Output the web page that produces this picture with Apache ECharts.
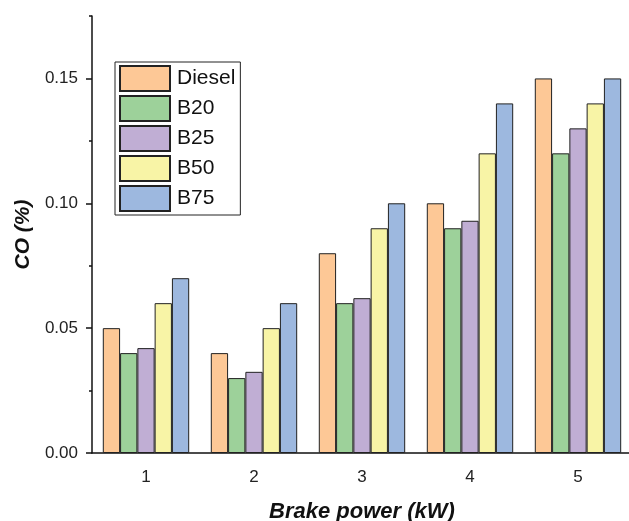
<!DOCTYPE html>
<html>
<head>
<meta charset="utf-8">
<script src="https://cdn.jsdelivr.net/npm/echarts@6/dist/echarts.min.js"></script>
<style>
  html, body { margin: 0; padding: 0; background: #fff; }
  #chart { width: 629px; height: 521px; }
</style>
</head>
<body>
<div id="chart"></div>
<script>
// brake power categories (kW)
const categories = ['1', '2', '3', '4', '5'];
// CO (%) per fuel
const diesel = [0.05, 0.04, 0.08, 0.10, 0.15];
const b20 = [0.04, 0.03, 0.06, 0.09, 0.12];
const b25 = [0.042, 0.0325, 0.062, 0.093, 0.13];
const b50 = [0.06, 0.05, 0.09, 0.12, 0.14];
const b75 = [0.07, 0.06, 0.10, 0.14, 0.15];
const majorTicks = [0, 0.05, 0.10, 0.15];
const minorTicks = [0.025, 0.075, 0.125, 0.175];

const chart = echarts.init(document.getElementById('chart'));
const font = 'Arial, "Liberation Sans", sans-serif';

function bar(name, data, color) {
  return {
    name: name,
    type: 'bar',
    data: data,
    barGap: 0,
    barCategoryGap: '20%',
    itemStyle: {color: color, borderColor: '#222', borderWidth: 1}
  };
}

const option = {
  animation: false,
  grid: {left: 92, top: 16, bottom: 68, right: -3, outerBoundsMode: 'none', containLabel: false},
  legend: {
    orient: 'vertical',
    left: 115,
    top: 62,
    padding: [3, 5, 3, 4],
    icon: 'rect',
    itemWidth: 50,
    itemHeight: 25,
    itemGap: 3,
    borderColor: '#222',
    borderWidth: 1,
    textStyle: {fontFamily: font, fontSize: 21, color: '#111', padding: [0, 0, 0, 2]},
    data: ['Diesel', 'B20', 'B25', 'B50', 'B75']
  },
  xAxis: [
    {
      type: 'category',
      data: categories,
      name: 'Brake power (kW)',
      nameLocation: 'middle',
      nameGap: 48,
      nameTextStyle: {fontFamily: font, fontSize: 22, fontWeight: 'bold', fontStyle: 'italic', color: '#111'},
      axisLine: {lineStyle: {color: '#111', width: 1.5}},
      axisTick: {alignWithLabel: true, length: 6, lineStyle: {color: '#111', width: 1.5}},
      axisLabel: {fontFamily: font, fontSize: 17, color: '#222', margin: 16}
    },
    {
      type: 'category',
      data: categories,
      position: 'bottom',
      axisLine: {show: false},
      axisTick: {length: 3, lineStyle: {color: '#111', width: 1.5}},
      axisLabel: {show: false}
    }
  ],
  yAxis: [
    {
      type: 'value',
      min: 0,
      max: 0.175,
      name: 'CO (%)',
      nameLocation: 'middle',
      nameGap: 57,
      nameTextStyle: {fontFamily: font, fontSize: 21, fontWeight: 'bold', fontStyle: 'italic', color: '#111'},
      splitLine: {show: false},
      axisLine: {show: true, lineStyle: {color: '#111', width: 1.5}},
      axisTick: {show: true, length: 6, customValues: majorTicks, lineStyle: {color: '#111', width: 1.5}},
      axisLabel: {customValues: majorTicks, fontFamily: font, fontSize: 17, color: '#222', margin: 14,
        formatter: v => v.toFixed(2)}
    },
    {
      type: 'value',
      min: 0,
      max: 0.175,
      position: 'left',
      splitLine: {show: false},
      axisLine: {show: false},
      axisTick: {show: true, length: 3, customValues: minorTicks, lineStyle: {color: '#111', width: 1.5}},
      axisLabel: {show: false}
    }
  ],
  series: [
    bar('Diesel', diesel, '#FDC896'),
    bar('B20', b20, '#9DD19A'),
    bar('B25', b25, '#C0AED4'),
    bar('B50', b50, '#F8F4A6'),
    bar('B75', b75, '#9DB8DF')
  ]
};
chart.setOption(option);
</script>
</body>
</html>
